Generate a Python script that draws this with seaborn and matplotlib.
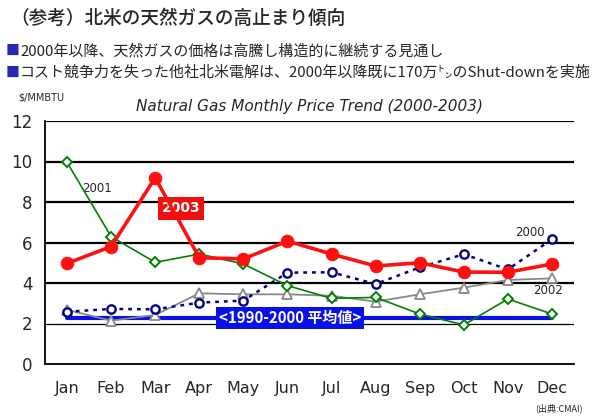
import matplotlib
matplotlib.use("Agg")
import matplotlib.pyplot as plt
import seaborn as sns
import pandas as pd

months = ["Jan", "Feb", "Mar", "Apr", "May", "Jun", "Jul", "Aug", "Sep", "Oct", "Nov", "Dec"]
price_2000 = [2.58, 2.72, 2.70, 3.03, 3.13, 4.51, 4.53, 3.95, 4.77, 5.42, 4.67, 6.16]
price_2001 = [9.96, 6.29, 5.02, 5.43, 4.94, 3.87, 3.24, 3.29, 2.47, 1.93, 3.21, 2.47]
price_2002 = [2.67, 2.14, 2.42, 3.49, 3.44, 3.44, 3.37, 3.08, 3.44, 3.77, 4.15, 4.23]
price_2003 = [4.97, 5.80, 9.20, 5.25, 5.19, 6.07, 5.43, 4.84, 5.00, 4.54, 4.53, 4.94]
avg_1990_2000 = [2.26] * 12
yticks = [0, 2, 4, 6, 8, 10, 12]

sns.set_style("white")
plt.rcParams["font.family"] = ["Noto Sans CJK JP", "DejaVu Sans"]

df = pd.DataFrame({
    "month": months,
    "p2000": price_2000, "p2001": price_2001, "p2002": price_2002,
    "p2003": price_2003, "avg": avg_1990_2000,
})

fig = plt.figure(figsize=(6.1, 4.16), dpi=100)
ax = fig.add_axes([45 / 610, 1 - 364 / 416, 529 / 610, 243 / 416])

for yv in [4, 6, 8, 10, 12]:
    ax.axhline(yv, color="black", lw=1.6, zorder=0)
ax.axhline(2, color="black", lw=0.9, zorder=0)

sns.lineplot(data=df, x="month", y="avg", ax=ax, color="#0a10e8", lw=3.0, zorder=2)
sns.lineplot(data=df, x="month", y="p2002", ax=ax, color="#888888", lw=1.3,
             marker="^", markersize=7, markerfacecolor="white",
             markeredgecolor="#888888", markeredgewidth=1.3, zorder=3)
sns.lineplot(data=df, x="month", y="p2000", ax=ax, color="#000080", lw=1.8,
             linestyle=(0, (1.5, 2.0)), marker="o", markersize=6,
             markerfacecolor="white", markeredgecolor="#000080",
             markeredgewidth=1.7, zorder=4)
sns.lineplot(data=df, x="month", y="p2001", ax=ax, color="#008000", lw=1.2,
             marker="D", markersize=5.5, markerfacecolor="white",
             markeredgecolor="#008000", markeredgewidth=1.4, zorder=5)
sns.lineplot(data=df, x="month", y="p2003", ax=ax, color="#ff1010", lw=2.6,
             marker="o", markersize=9, markerfacecolor="#ff1010",
             markeredgecolor="#ff1010", zorder=6)

ax.set_xlim(-0.5, 11.5)
ax.set_ylim(0, 12)
ax.set_yticks(yticks)
ax.set_yticklabels([str(v) for v in yticks], fontsize=12, family="DejaVu Sans")
ax.set_xticks(range(12))
ax.set_xticklabels(months, fontsize=11.5, family="DejaVu Sans")
ax.set_xticks([i + 0.5 for i in range(-1, 12)], minor=True)
ax.tick_params(axis="x", which="major", length=0, pad=12)
ax.tick_params(axis="x", which="minor", length=5, width=1.2, direction="in", color="black")
ax.tick_params(axis="y", length=0, pad=9)
ax.set_xlabel("")
ax.set_ylabel("")
for s in ["top", "right"]:
    ax.spines[s].set_visible(False)
for s in ["left", "bottom"]:
    ax.spines[s].set_color("black")
    ax.spines[s].set_linewidth(1.3)

# annotations
ax.text(0.69, 8.69, "2001", fontsize=8.5, family="DejaVu Sans", ha="center", va="center")
ax.text(10.5, 6.47, "2000", fontsize=8.5, family="DejaVu Sans", ha="center", va="center")
ax.text(10.91, 3.65, "2002", fontsize=8.5, family="DejaVu Sans", ha="center", va="center")
ax.text(2.585, 7.68, "2003", fontsize=10, fontweight="bold", color="white",
        family="DejaVu Sans", ha="center", va="center",
        bbox=dict(boxstyle="square,pad=0.3", fc="#ee1010", ec="none"))
ax.text(5.05, 2.26, "<1990-2000 平均値>", fontsize=10.8, fontweight="bold", color="white",
        ha="center", va="center",
        bbox=dict(boxstyle="square,pad=0.2", fc="#0a10e8", ec="none"))

fig.text(10 / 610, 1 - 18 / 416, "（参考）北米の天然ガスの高止まり傾向", fontsize=13.4,
         fontweight="medium", ha="left", va="center")
fig.text(6 / 610, 1 - 51 / 416, "■", fontsize=10, color="#2828b0", ha="left", va="center")
fig.text(20 / 610, 1 - 51 / 416, "2000年以降、天然ガスの価格は高騰し構造的に継続する見通し",
         fontsize=10.8, ha="left", va="center")
fig.text(6 / 610, 1 - 73 / 416, "■", fontsize=10, color="#2828b0", ha="left", va="center")
fig.text(20 / 610, 1 - 73 / 416, "コスト競争力を失った他社北米電解は、2000年以降既に170万㌧のShut-downを実施",
         fontsize=10.8, ha="left", va="center")
fig.text(18 / 610, 1 - 98 / 416, "$/MMBTU", fontsize=7, family="DejaVu Sans",
         ha="left", va="center")
fig.text(310 / 610, 1 - 106 / 416, "Natural Gas Monthly Price Trend (2000-2003)",
         fontsize=11, style="italic", family="DejaVu Sans", ha="center", va="center")
fig.text(583 / 610, 1 - 408 / 416, "(出典:CMAI)", fontsize=6.5, ha="right", va="center")

fig.savefig("out.png", dpi=100)
